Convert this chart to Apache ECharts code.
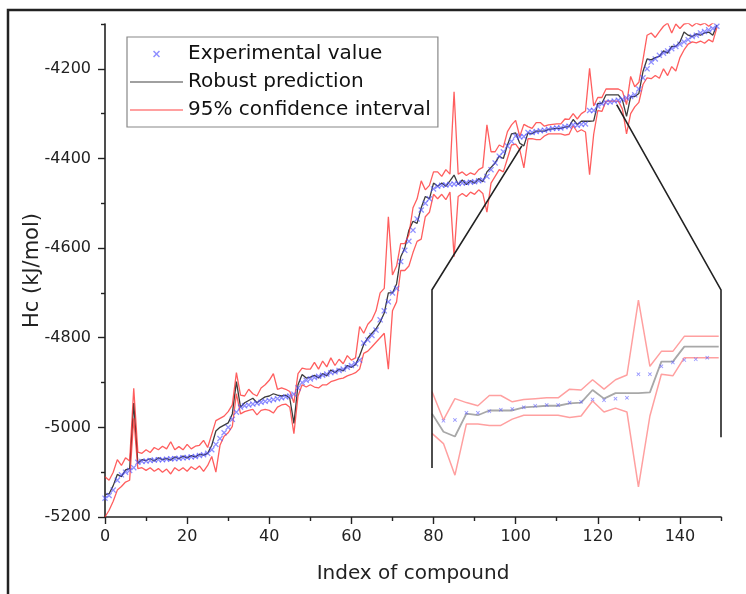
<!DOCTYPE html>
<html><head><meta charset="utf-8">
<script src="https://cdn.jsdelivr.net/npm/echarts@6/dist/echarts.min.js"></script>
<style>html,body{margin:0;padding:0;background:#fff}#c{width:746px;height:594px}</style>
</head><body><div id="c"></div>
<script>
// ---- data (index of compound = array position 0..149) ----
const experimental = [
-5158,-5152,-5140,-5118,-5106,-5100,-5096,-5090,-5078,-5076,
-5075,-5074,-5073,-5072,-5072,-5071,-5070,-5070,-5069,-5068,
-5067,-5066,-5065,-5063,-5061,-5058,-5050,-5038,-5025,-5012,
-5000,-4982,-4966,-4955,-4952,-4950,-4948,-4946,-4944,-4942,
-4940,-4938,-4936,-4934,-4932,-4930,-4926,-4912,-4900,-4895,
-4892,-4889,-4886,-4884,-4881,-4878,-4876,-4873,-4870,-4866,
-4862,-4858,-4850,-4812,-4805,-4795,-4783,-4760,-4740,-4720,
-4700,-4690,-4630,-4605,-4585,-4560,-4535,-4515,-4500,-4490,
-4468,-4462,-4460,-4459,-4458,-4457,-4456,-4455,-4454,-4453,
-4452,-4450,-4448,-4440,-4425,-4410,-4395,-4385,-4372,-4362,
-4350,-4352,-4351,-4342,-4342,-4340,-4338,-4337,-4335,-4333,
-4332,-4332,-4329,-4328,-4325,-4326,-4324,-4323,-4293,-4293,
-4283,-4278,-4275,-4274,-4272,-4270,-4268,-4265,-4262,-4258,
-4245,-4220,-4200,-4185,-4178,-4170,-4165,-4160,-4155,-4150,
-4145,-4140,-4135,-4128,-4125,-4120,-4117,-4113,-4110,-4105];
const prediction = [
-5150,-5148,-5130,-5105,-5110,-5095,-5092,-4946,-5080,-5072,
-5074,-5070,-5075,-5068,-5072,-5069,-5073,-5066,-5070,-5064,
-5068,-5063,-5066,-5060,-5062,-5058,-5040,-5008,-5000,-4995,
-4990,-4970,-4898,-4955,-4945,-4940,-4935,-4945,-4938,-4932,
-4930,-4925,-4928,-4930,-4928,-4935,-4991,-4905,-4882,-4890,
-4888,-4884,-4890,-4880,-4885,-4872,-4878,-4870,-4874,-4862,
-4866,-4860,-4840,-4815,-4800,-4790,-4780,-4765,-4745,-4700,
-4700,-4680,-4620,-4600,-4560,-4540,-4545,-4510,-4485,-4490,
-4455,-4462,-4455,-4462,-4450,-4437,-4458,-4448,-4458,-4450,
-4455,-4445,-4452,-4430,-4420,-4410,-4395,-4400,-4370,-4345,
-4343,-4366,-4372,-4343,-4345,-4339,-4339,-4339,-4335,-4334,
-4333,-4333,-4330,-4329,-4313,-4324,-4317,-4317,-4317,-4316,
-4277,-4277,-4258,-4258,-4258,-4258,-4270,-4306,-4262,-4262,
-4255,-4206,-4178,-4180,-4175,-4172,-4160,-4165,-4150,-4150,
-4140,-4118,-4125,-4128,-4122,-4125,-4120,-4118,-4125,-4102];
const upperCI = [
-5110,-5118,-5100,-5072,-5085,-5068,-5075,-4913,-5055,-5058,
-5050,-5056,-5045,-5050,-5042,-5048,-5032,-5050,-5043,-5050,
-5038,-5048,-5042,-5040,-5029,-5045,-5015,-4985,-4980,-4975,
-4965,-4950,-4878,-4928,-4930,-4915,-4925,-4930,-4912,-4905,
-4895,-4880,-4915,-4912,-4915,-4920,-4945,-4880,-4868,-4870,
-4870,-4855,-4870,-4852,-4865,-4845,-4862,-4848,-4858,-4840,
-4850,-4845,-4775,-4790,-4770,-4760,-4740,-4700,-4690,-4530,
-4660,-4640,-4590,-4590,-4570,-4510,-4490,-4450,-4470,-4460,
-4430,-4430,-4440,-4425,-4435,-4251,-4435,-4430,-4438,-4432,
-4436,-4425,-4420,-4325,-4385,-4385,-4370,-4375,-4340,-4325,
-4315,-4351,-4324,-4329,-4333,-4320,-4320,-4328,-4325,-4324,
-4323,-4323,-4312,-4313,-4300,-4312,-4300,-4294,-4199,-4283,
-4264,-4264,-4245,-4245,-4245,-4245,-4250,-4280,-4217,-4240,
-4230,-4180,-4125,-4120,-4130,-4117,-4105,-4098,-4120,-4100,
-4110,-4100,-4098,-4105,-4098,-4102,-4098,-4105,-4098,-4095];
const lowerCI = [
-5200,-5185,-5165,-5140,-5132,-5122,-5118,-4980,-5092,-5090,
-5096,-5090,-5098,-5092,-5100,-5093,-5104,-5090,-5097,-5090,
-5098,-5088,-5094,-5086,-5098,-5085,-5065,-5100,-5040,-5020,
-5012,-4998,-4925,-4970,-4965,-4962,-4960,-4972,-4962,-4960,
-4962,-4968,-4955,-4950,-4948,-4955,-5014,-4930,-4905,-4910,
-4905,-4910,-4912,-4905,-4905,-4898,-4895,-4892,-4890,-4885,
-4882,-4878,-4870,-4835,-4830,-4820,-4810,-4800,-4790,-4870,
-4740,-4720,-4650,-4650,-4640,-4610,-4585,-4580,-4530,-4520,
-4480,-4490,-4480,-4492,-4475,-4619,-4485,-4478,-4485,-4475,
-4480,-4470,-4478,-4520,-4455,-4440,-4425,-4430,-4400,-4370,
-4368,-4381,-4421,-4356,-4356,-4358,-4358,-4350,-4345,-4345,
-4345,-4345,-4348,-4346,-4327,-4341,-4336,-4341,-4436,-4346,
-4293,-4295,-4272,-4272,-4272,-4272,-4290,-4345,-4300,-4285,
-4275,-4235,-4220,-4222,-4215,-4221,-4200,-4215,-4195,-4205,
-4175,-4158,-4145,-4140,-4142,-4138,-4143,-4135,-4140,-4108];
const xTicks = [0,20,40,60,80,100,120,140];
const xMinorTicks = [10,30,50,70,90,110,130,150];
const yTicks = [-5200,-5000,-4800,-4600,-4400,-4200];
const yMinorTicks = [-5100,-4900,-4700,-4500,-4300,-4100];
// magnified region shown in the inset
const insetFirst = 100, insetLast = 125;
const zoomLeftCorner = [101.5, -4372];
const zoomRightCorner = [124.6, -4280];

// ---- build ----
const FONT = 'DejaVu Sans';
const crossPath = 'path://M0,1.5L1.5,0L5,3.5L8.5,0L10,1.5L6.5,5L10,8.5L8.5,10L5,6.5L1.5,10L0,8.5L3.5,5Z';
const lineIcon = 'path://M0,0H53V1.6H0Z';
const pair = arr => arr.map((v, i) => [i, v]);
const pairRange = (arr, a, b) => arr.slice(a, b + 1).map((v, k) => [a + k, v]);

const chart = echarts.init(document.getElementById('c'));
const axisLine = {show: true, lineStyle: {color: '#222', width: 1.6}};
chart.setOption({
  animation: false,
  backgroundColor: '#fff',
  grid: [
    {left: 105, right: 25, top: 24, bottom: 77, outerBoundsMode: 'none'},
    {left: 432, width: 289, top: 293, height: 205, outerBoundsMode: 'none'}
  ],
  xAxis: [
    {type: 'value', gridIndex: 0, min: 0, max: 150, position: 'bottom',
     axisLine, splitLine: {show: false},
     axisTick: {show: true, length: 7, lineStyle: {color: '#222', width: 1.4}, customValues: xTicks},
     axisLabel: {customValues: xTicks, formatter: v => String(v), fontFamily: FONT, fontSize: 16, color: '#222', margin: 12},
     name: 'Index of compound', nameLocation: 'middle', nameGap: 47,
     nameTextStyle: {fontFamily: FONT, fontSize: 20, color: '#222'}},
    {type: 'value', gridIndex: 0, min: 0, max: 150, position: 'bottom',
     axisLine: {show: false}, splitLine: {show: false}, axisLabel: {show: false},
     axisTick: {show: true, length: 4, lineStyle: {color: '#222', width: 1.4}, customValues: xMinorTicks}},
    {type: 'value', gridIndex: 1, min: insetFirst, max: 125.2, show: false}
  ],
  yAxis: [
    {type: 'value', gridIndex: 0, min: -5200, max: -4100, position: 'left',
     axisLine, splitLine: {show: false},
     axisTick: {show: true, length: 7, lineStyle: {color: '#222', width: 1.4}, customValues: yTicks},
     axisLabel: {customValues: yTicks, formatter: v => String(v), fontFamily: FONT, fontSize: 16, color: '#222', margin: 14},
     name: 'Hc (kJ/mol)', nameLocation: 'middle', nameGap: 62, nameMoveOverlap: false,
     nameTextStyle: {fontFamily: FONT, fontSize: 21, color: '#222'}},
    {type: 'value', gridIndex: 0, min: -5200, max: -4100, position: 'left',
     axisLine: {show: false}, splitLine: {show: false}, axisLabel: {show: false},
     axisTick: {show: true, length: 4, lineStyle: {color: '#222', width: 1.4}, customValues: yMinorTicks}},
    {type: 'value', gridIndex: 1, min: -4450, max: -4190, show: false}
  ],
  legend: {
    left: 127, top: 37, orient: 'vertical',
    padding: [6, 7, 6, 3], itemGap: 6, itemWidth: 53, itemHeight: 7,
    borderColor: '#888', borderWidth: 1.2, backgroundColor: '#fff',
    selectedMode: false,
    textStyle: {fontFamily: FONT, fontSize: 20, color: '#111', lineHeight: 22},
    data: [
      {name: 'Experimental value', icon: crossPath},
      {name: 'Robust prediction', icon: lineIcon, itemStyle: {color: '#808080'}},
      {name: '95% confidence interval', icon: lineIcon, itemStyle: {color: '#ff8080'}}
    ]
  },
  series: [
    {name: 'Robust prediction', type: 'line', xAxisIndex: 0, yAxisIndex: 0, data: pair(prediction),
     symbol: 'none', lineStyle: {color: '#3c3c3c', width: 1.3}, itemStyle: {color: '#808080'}, z: 2},
    {name: '95% confidence interval', type: 'line', xAxisIndex: 0, yAxisIndex: 0, data: pair(upperCI),
     symbol: 'none', lineStyle: {color: 'rgba(255,40,40,0.75)', width: 1.3}, itemStyle: {color: '#ff8080'}, z: 3},
    {name: '95% confidence interval', type: 'line', xAxisIndex: 0, yAxisIndex: 0, data: pair(lowerCI),
     symbol: 'none', lineStyle: {color: 'rgba(255,40,40,0.75)', width: 1.3}, itemStyle: {color: '#ff8080'}, z: 3},
    {name: 'Experimental value', type: 'scatter', xAxisIndex: 0, yAxisIndex: 0, data: pair(experimental),
     symbol: crossPath, symbolSize: 6, itemStyle: {color: 'rgba(80,80,255,0.8)'}, z: 4},
    // inset (magnified view of the same data)
    {name: 'inset-pred', type: 'line', xAxisIndex: 2, yAxisIndex: 2, data: pairRange(prediction, insetFirst, insetLast),
     symbol: 'none', lineStyle: {color: '#a8a8a8', width: 1.8}, z: 2},
    {name: 'inset-up', type: 'line', xAxisIndex: 2, yAxisIndex: 2, data: pairRange(upperCI, insetFirst, insetLast),
     symbol: 'none', lineStyle: {color: '#ffa0a0', width: 1.5}, z: 3},
    {name: 'inset-low', type: 'line', xAxisIndex: 2, yAxisIndex: 2, data: pairRange(lowerCI, insetFirst, insetLast),
     symbol: 'none', lineStyle: {color: '#ffa0a0', width: 1.5}, z: 3},
    {name: 'inset-exp', type: 'scatter', xAxisIndex: 2, yAxisIndex: 2, data: pairRange(experimental, insetFirst + 1, insetLast - 1),
     symbol: crossPath, symbolSize: 4, itemStyle: {color: 'rgba(90,90,255,0.8)'}, z: 4}
  ]
});

// connector lines of the magnifier and the outer frame
const toMain = p => chart.convertToPixel({xAxisIndex: 0, yAxisIndex: 0}, p);
const toInset = p => chart.convertToPixel({xAxisIndex: 2, yAxisIndex: 2}, p);
const a = toMain(zoomLeftCorner), b = toInset([insetFirst, -4186]), c = toInset([insetFirst, -4412]);
const d = toMain(zoomRightCorner), e = toInset([125.2, -4186]), f = toInset([125.2, -4373]);
const lineStyle = {stroke: '#222', lineWidth: 1.6, fill: null};
chart.setOption({
  graphic: [
    {type: 'polyline', shape: {points: [a, b, c]}, style: lineStyle, z: 10},
    {type: 'polyline', shape: {points: [d, e, f]}, style: lineStyle, z: 10},
    {type: 'polyline', shape: {points: [[8, 594], [8, 10], [746, 10]]}, style: {stroke: '#222', lineWidth: 2.5, fill: null}, z: 10}
  ]
});
</script>
</body></html>
